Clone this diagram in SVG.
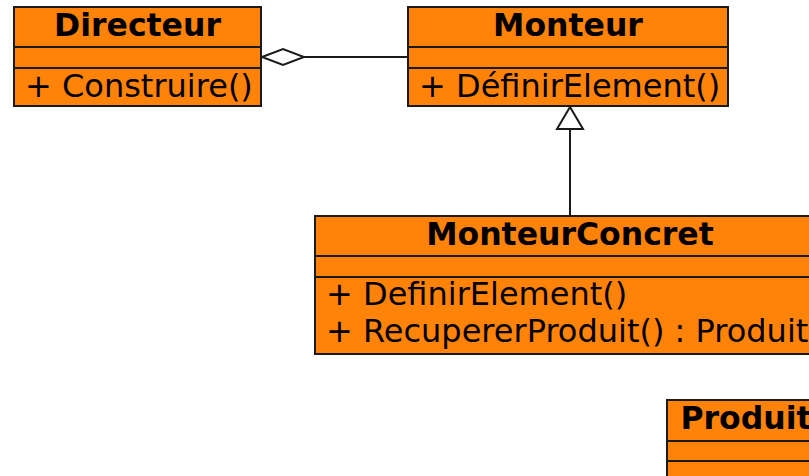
<svg xmlns="http://www.w3.org/2000/svg" width="809" height="476" viewBox="0 0 809 476">
  <style>
    .box { fill: #ff8308; stroke: #1a1a1a; stroke-width: 2; }
    .sep { stroke: #1a1a1a; stroke-width: 2; }
    .title { font-family: "DejaVu Sans", sans-serif; font-weight: bold; font-size: 31.5px; fill: #000; text-anchor: middle; }
    .op { font-family: "DejaVu Sans", sans-serif; font-size: 32px; fill: #000; }
    .edge { stroke: #1a1a1a; stroke-width: 2; fill: none; }
    .hollow { fill: #fff; stroke: #1a1a1a; stroke-width: 2; }
  </style>
  <rect width="809" height="476" fill="#fff"/>

  <g id="connectors">
    <!-- aggregation: Monteur to Directeur -->
    <line class="edge" x1="304" y1="57" x2="408" y2="57"/>
    <polygon class="hollow" points="262,57 283,49 304,57 283,65"/>
    <!-- generalisation: MonteurConcret to Monteur -->
    <line class="edge" x1="570" y1="216" x2="570" y2="129"/>
    <polygon class="hollow" points="570,107 557,129 583,129"/>
  </g>

  <g id="directeur">
    <rect class="box" x="14" y="7" width="247" height="99"/>
    <line class="sep" x1="14" y1="47" x2="261" y2="47"/>
    <line class="sep" x1="14" y1="68" x2="261" y2="68"/>
    <text class="title" x="137.5" y="36">Directeur</text>
    <text class="op" x="25" y="97">+ Construire()</text>
  </g>

  <g id="monteur">
    <rect class="box" x="408" y="7" width="320" height="99"/>
    <line class="sep" x1="408" y1="47" x2="728" y2="47"/>
    <line class="sep" x1="408" y1="68" x2="728" y2="68"/>
    <text class="title" x="568" y="36">Monteur</text>
    <text class="op" x="419" y="97">+ DéfinirElement()</text>
  </g>

  <g id="monteur-concret">
    <rect class="box" x="315" y="216" width="510" height="138"/>
    <line class="sep" x1="315" y1="256" x2="825" y2="256"/>
    <line class="sep" x1="315" y1="277" x2="825" y2="277"/>
    <text class="title" x="570" y="245">MonteurConcret</text>
    <text class="op" x="326" y="305">+ DefinirElement()</text>
    <text class="op" x="326" y="342">+ RecupererProduit() : Produit</text>
  </g>

  <g id="produit">
    <rect class="box" x="667" y="400" width="160" height="100"/>
    <line class="sep" x1="667" y1="441" x2="827" y2="441"/>
    <line class="sep" x1="667" y1="461" x2="827" y2="461"/>
    <text class="title" x="746" y="429">Produit</text>
  </g>
</svg>
